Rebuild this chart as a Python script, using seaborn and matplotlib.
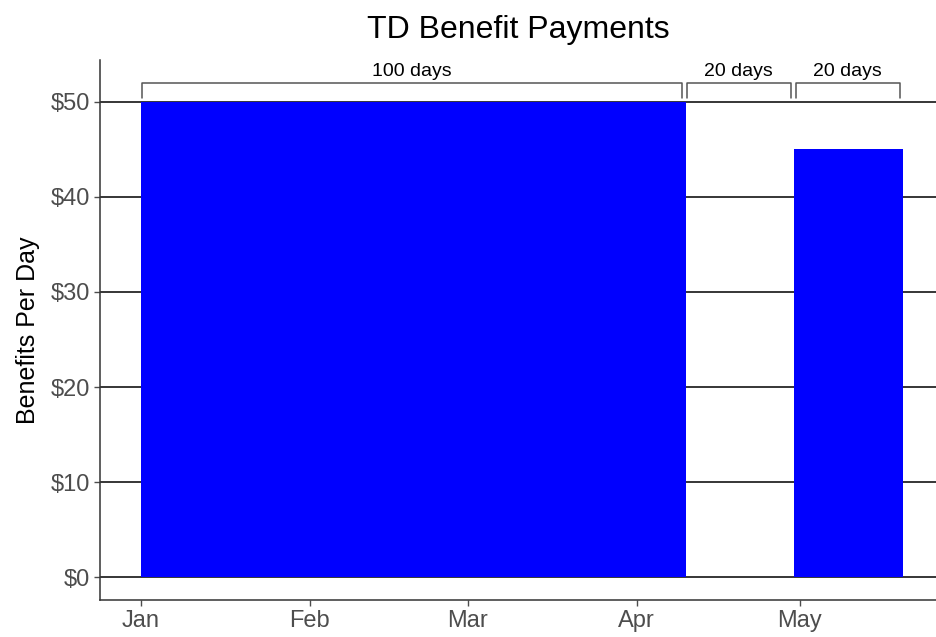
import matplotlib
matplotlib.use("Agg")
import matplotlib.pyplot as plt
import matplotlib.dates as mdates
import matplotlib.ticker as mticker
import seaborn as sns
import pandas as pd

# Benefit periods
starts = ["2020-01-01", "2020-04-10", "2020-04-30"]
ends = ["2020-04-10", "2020-04-30", "2020-05-20"]
benefits = [50, 0, 45]
labels = ["100 days", "20 days", "20 days"]

df = pd.DataFrame({"start": pd.to_datetime(starts),
                   "end": pd.to_datetime(ends),
                   "benefit": benefits,
                   "label": labels})
df["width"] = (df["end"] - df["start"]).dt.days

sns.set_theme(style="white")
plt.rcParams["font.family"] = ["Liberation Sans", "DejaVu Sans"]

fig = plt.figure(figsize=(9.36, 6.37), dpi=100)
ax = fig.add_axes([0.107, 0.058, 0.893, 0.848])

# Horizontal grid behind bars
for y in range(0, 51, 10):
    ax.axhline(y, color="black", lw=1.1, zorder=0)

ax.bar(mdates.date2num(df["start"]), df["benefit"], width=df["width"],
       align="edge", color="#0000FF", linewidth=0, zorder=2)

# Brackets with labels
for _, row in df.iterrows():
    x0 = mdates.date2num(row["start"]) + 0.2
    x1 = mdates.date2num(row["end"]) - 0.7
    ax.plot([x0, x0, x1, x1], [50.4, 52.0, 52.0, 50.4], color="#555555",
            lw=1.1, clip_on=False, zorder=3)
    ax.text((x0 + x1) / 2, 52.7, row["label"], ha="center", va="baseline",
            fontsize=14, color="black")

ax.set_xlim(mdates.date2num(pd.Timestamp("2020-01-01")) - 7.5,
            mdates.date2num(pd.Timestamp("2020-01-01")) + 146)
ax.set_ylim(-2.4, 54.4)
ax.set_yticks(range(0, 51, 10))
ax.yaxis.set_major_formatter(mticker.FuncFormatter(lambda v, p: f"${v:.0f}"))
ax.xaxis.set_major_locator(mdates.MonthLocator())
ax.xaxis.set_major_formatter(mdates.DateFormatter("%b"))

ax.tick_params(axis="both", colors="#4D4D4D", labelsize=17, length=4,
               width=1, direction="out", bottom=True, left=True, pad=3)
ax.set_ylabel("Benefits Per Day", fontsize=18, color="black", labelpad=8)
ax.set_xlabel("")

for s in ["top", "right"]:
    ax.spines[s].set_visible(False)
for s in ["left", "bottom"]:
    ax.spines[s].set_color("#333333")
    ax.spines[s].set_linewidth(1.1)

fig.text(0.5535, 0.953, "TD Benefit Payments", fontsize=23, ha="center",
         va="center", color="black")

fig.savefig("out.png", dpi=100)
